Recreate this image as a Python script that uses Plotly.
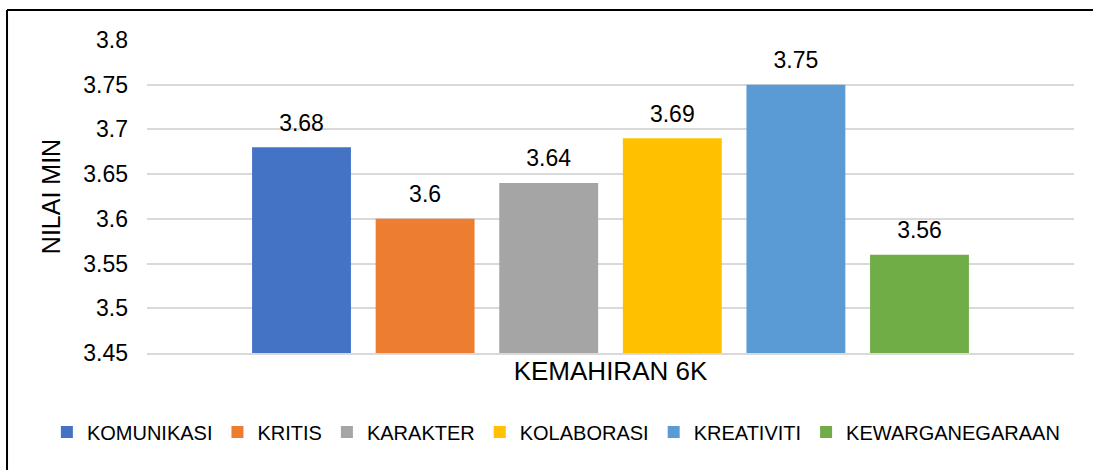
import plotly.graph_objects as go

categories = ["KEMAHIRAN 6K"]
series_names = ["KOMUNIKASI", "KRITIS", "KARAKTER", "KOLABORASI", "KREATIVITI", "KEWARGANEGARAAN"]
series_values = [3.68, 3.60, 3.64, 3.69, 3.75, 3.56]
colors = ["#4472C4", "#ED7D31", "#A5A5A5", "#FFC000", "#5B9BD5", "#70AD47"]
y_ticks = [3.45, 3.5, 3.55, 3.6, 3.65, 3.7, 3.75, 3.8]

FONT = "Liberation Sans, Arial, sans-serif"

fig = go.Figure()
for name, val, col in zip(series_names, series_values, colors):
    fig.add_trace(go.Bar(
        x=categories, y=[val], name=name,
        marker=dict(color=col, line=dict(width=0)),
        texttemplate="<span style='font-size:23px'>%{y}</span><br>&nbsp;",
        textposition="outside",
        cliponaxis=False,
        constraintext="none",
        textfont=dict(family=FONT, size=9, color="#000000"),
    ))

fig.update_layout(
    width=1093, height=470,
    margin=dict(l=147, r=19, t=40, b=117),
    paper_bgcolor="white", plot_bgcolor="white",
    barmode="group", bargap=0.2, bargroupgap=0.2,
    font=dict(family=FONT, color="#000000"),
    showlegend=True,
    legend=dict(orientation="h", x=-0.108, xanchor="left", y=-0.252, yanchor="middle",
                font=dict(family=FONT, size=20, color="#000000"),
                itemwidth=30, tracegroupgap=0, bgcolor="rgba(0,0,0,0)"),
)
fig.update_yaxes(
    range=[3.45, 3.8], tickvals=y_ticks, ticktext=[f"{v:g}" for v in y_ticks],
    showgrid=True, gridcolor="#D9D9D9", gridwidth=1.5,
    zeroline=False, showline=False,
    tickfont=dict(family=FONT, size=23, color="#000000"),
    ticklabelstandoff=18,
    title=dict(text="NILAI MIN", font=dict(family=FONT, size=25, color="#000000"), standoff=15),
)
fig.update_xaxes(
    showticklabels=False, showgrid=False, zeroline=False,
    showline=True, linecolor="#D9D9D9", linewidth=1.5,
    title=dict(text="KEMAHIRAN 6K", font=dict(family=FONT, size=26, color="#000000"), standoff=8),
)
# outer chart border (top and left edges visible)
fig.add_shape(type="line", xref="paper", yref="paper", x0=-0.151, x1=1.1, y0=1.0958, y1=1.0958,
              line=dict(color="#000000", width=2))
fig.add_shape(type="line", xref="paper", yref="paper", x0=-0.151, x1=-0.151, y0=-0.5, y1=1.0958,
              line=dict(color="#000000", width=2))

fig.write_html("out.html", config={"displayModeBar": False},
               post_script="document.body.style.margin='0';")
